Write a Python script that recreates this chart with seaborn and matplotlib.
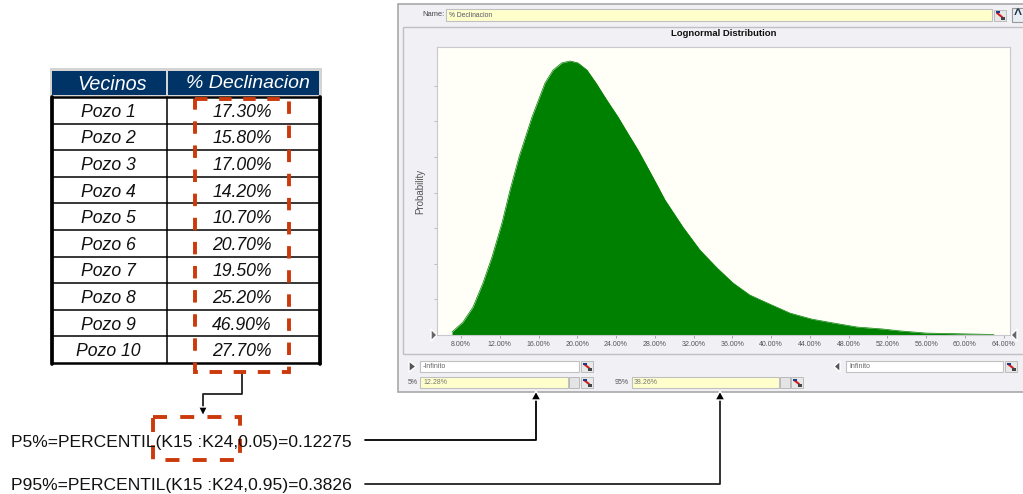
import matplotlib
matplotlib.use('Agg')
import matplotlib.pyplot as plt
import seaborn as sns
import pandas as pd
from matplotlib.patches import Rectangle, Polygon

# table values
vecinos = ['Pozo 1', 'Pozo 2', 'Pozo 3', 'Pozo 4', 'Pozo 5',
           'Pozo 6', 'Pozo 7', 'Pozo 8', 'Pozo 9', 'Pozo 10']
declinacion = ['17.30%', '15.80%', '17.00%', '14.20%', '10.70%',
               '20.70%', '19.50%', '25.20%', '46.90%', '27.70%']
table_header = ['Vecinos', '% Declinacion']

# lognormal curve (x in %, height relative to peak)
curve_x = [7.07, 8.2, 9.24, 10.27, 11.2, 12.23, 13.06, 13.99, 15.33, 16.67, 17.5, 18.4, 19.25, 20.07, 21.0, 21.93,
           23.0, 24.2, 25.2, 26.27, 27.2, 28.12, 29.05, 30.9, 32.66, 34.42, 36.07, 37.8, 39.6, 41.95, 44.2, 46.4,
           48.9, 51.5, 53.3, 56.0, 60.0, 63.0]
curve_y = [0.011, 0.047, 0.102, 0.190, 0.285, 0.409, 0.529, 0.650, 0.796, 0.920, 0.967, 0.993, 1.000, 0.993, 0.967, 0.920,
           0.860, 0.796, 0.737, 0.675, 0.615, 0.555, 0.493, 0.394, 0.310, 0.245, 0.190, 0.146, 0.117, 0.080, 0.058, 0.044,
           0.029, 0.022, 0.015, 0.007, 0.004, 0.002]
tick_values = [8, 12, 16, 20, 24, 28, 32, 36, 40, 44, 48, 52, 56, 60, 64]
ytick_values = [0.13, 0.26, 0.39, 0.52, 0.65, 0.78, 0.91]

formula_p5 = 'P5%=PERCENTIL(K15 :K24,0.05)=0.12275'
formula_p95 = 'P95%=PERCENTIL(K15 :K24,0.95)=0.3826'

sns.set_theme(style='white')
plt.rcParams['font.family'] = ['Liberation Sans', 'DejaVu Sans']

W, H = 1023, 494
fig = plt.figure(figsize=(W / 100, H / 100), dpi=100, facecolor='white')
bg = fig.add_axes([0, 0, 1, 1])
bg.set_xlim(0, W)
bg.set_ylim(H, 0)
bg.axis('off')

RED = '#cc3a0c'
NAVY = '#003366'
PANEL = '#f0f0f5'


def rect(x0, y0, x1, y1, fc='none', ec='none', lw=0, z=1, **kw):
    bg.add_patch(Rectangle((x0, y0), x1 - x0, y1 - y0, fc=fc, ec=ec, lw=lw, zorder=z, **kw))


def icon(x, y):
    # small link button next to the input fields
    rect(x, y, x + 12, y + 11, fc='#e8e8e8', ec='#aaaaaa', lw=0.5, z=3)
    bg.plot([x + 3, x + 8], [y + 3, y + 7], color='#d02020', lw=1.5, zorder=4)
    rect(x + 2, y + 1.5, x + 6, y + 3.5, fc='#203a80', z=5)
    rect(x + 7, y + 7, x + 11, y + 10, fc='#444444', z=5)


# ---- table ----
rows_top = 97
row_h = 26.6
cols = [52, 167, 320]
table_bottom = rows_top + 10 * row_h
rect(50, 68, 322, 96, fc='#d4d4d4', z=0)
rect(cols[0], 71, cols[1] - 1, 95, fc=NAVY, z=1)
rect(cols[1] + 1, 71, cols[2] - 1, 95, fc=NAVY, z=1)
bg.text(112, 84, table_header[0], color='white', style='italic', fontsize=14.2, ha='center', va='center')
bg.text(248, 84, table_header[1], color='white', style='italic', fontsize=14, ha='center', va='center')
for i, (v, d) in enumerate(zip(vecinos, declinacion)):
    yc = rows_top + row_h * (i + 0.5)
    bg.text(108, yc + 2, v, style='italic', fontsize=12.7, color='#111111', ha='center', va='center')
    bg.text(242, yc + 2, d, style='italic', fontsize=12.7, color='#111111', ha='center', va='center')
    if i:
        bg.plot([cols[0], cols[2]], [rows_top + row_h * i] * 2, color='black', lw=1.1, zorder=2)
bg.plot([cols[1], cols[1]], [rows_top, table_bottom], color='black', lw=1.1, zorder=2)
bg.plot([cols[0], cols[2]], [rows_top, rows_top], color='black', lw=1.8, zorder=2)
bg.plot([cols[0], cols[2]], [table_bottom, table_bottom], color='black', lw=1.8, zorder=2)
bg.plot([cols[0], cols[0]], [rows_top, table_bottom + 1], color='black', lw=2.7, zorder=2)
bg.plot([cols[2], cols[2]], [rows_top, table_bottom + 1], color='black', lw=2.7, zorder=2)

# red dashed boxes
rect(195, 99, 289, 372, fc='none', ec=RED, lw=2.8, ls=(0, (3.2, 3.0)), z=6)
rect(153, 417, 240, 460, fc='none', ec=RED, lw=2.8, ls=(0, (3.6, 3.4)), z=6)

# connector between table and formula
bg.plot([242, 242, 203, 203], [372, 394, 394, 408], color='#222222', lw=1.3, zorder=5)
bg.add_patch(Polygon([[198.5, 407], [207.5, 407], [203, 416]], fc='black', zorder=5))

# formulas
bg.text(11, 442, formula_p5, fontsize=12.6, color='#111111', va='center', ha='left', zorder=7)
bg.text(11, 485, formula_p95, fontsize=12.6, color='#111111', va='center', ha='left', zorder=7)
bg.plot([365, 536, 536], [440, 440, 398], color='black', lw=1.3)
bg.plot([365, 720, 720], [484, 484, 398], color='#222222', lw=1.3)
for xa in (536, 720):
    bg.add_patch(Polygon([[xa - 5, 400], [xa + 5, 400], [xa, 391]], fc='black', zorder=5))

# ---- software window ----
rect(398, 4, W + 5, 392, fc=PANEL, ec='#a8a8a8', lw=1.2, z=0)
rect(403, 27, W + 5, 354, fc=PANEL, ec='#c0c0c4', lw=1, z=0)
bg.text(422, 15, 'Name:', fontsize=5.4, color='#444444', va='center')
rect(446, 9.5, 992, 21, fc='#ffffcc', ec='#c0c0c0', lw=0.8, z=1)
bg.text(449, 15.5, '% Declinacion', fontsize=4.9, color='#555566', va='center')
icon(994, 10)
rect(1012, 8, W + 5, 22, fc='#e8eef5', ec='#999999', lw=0.8, z=1)
bg.text(1018, 15, '^', fontsize=10, weight='bold', color='#223344', va='center', ha='center')
bg.text(724, 33.5, 'Lognormal Distribution', fontsize=6.8, weight='bold', color='#111111', ha='center', va='center')

# input rows
rect(420, 361, 579, 372, fc='white', ec='#c0c0c0', lw=0.8, z=1)
rect(846, 361, 1003, 372, fc='white', ec='#c0c0c0', lw=0.8, z=1)
bg.text(423, 366.5, '-Infinito', fontsize=5, color='#666666', va='center', zorder=3)
bg.text(849, 366.5, 'Infinito', fontsize=5, color='#666666', va='center', zorder=3)
icon(581, 361)
icon(1005, 361)
bg.add_patch(Polygon([[409, 361], [409, 372], [416, 366.5]], fc='#555555', zorder=3))
bg.add_patch(Polygon([[840, 361], [840, 372], [834, 366.5]], fc='#555555', zorder=3))
rect(420, 377, 568, 388, fc='#ffffcc', ec='#c0c0c0', lw=0.8, z=1)
rect(632, 377, 779, 388, fc='#ffffcc', ec='#c0c0c0', lw=0.8, z=1)
bg.text(408, 382.5, '5%', fontsize=5, color='#555555', va='center')
bg.text(615, 382.5, '95%', fontsize=5, color='#555555', va='center')
bg.text(423, 382.5, '12.28%', fontsize=5, color='#777777', va='center', zorder=3)
bg.text(634, 382.5, '38.26%', fontsize=5, color='#777777', va='center', zorder=3)
rect(569, 377, 579, 388, fc='#e4e4e4', ec='#b0b0b0', lw=0.6, z=1)
rect(780, 377, 790, 388, fc='#e4e4e4', ec='#b0b0b0', lw=0.6, z=1)
icon(581, 377)
icon(791, 377)

# ---- distribution plot ----
left, right, top, bottom = 437, 1010, 47, 335
ax = fig.add_axes([left / W, 1 - bottom / H, (right - left) / W, (bottom - top) / H], facecolor='#fffff8')
df = pd.DataFrame({'x': curve_x, 'y': curve_y})
GREEN = '#008000'
ax.fill_between(df['x'], 0, df['y'], color=GREEN, lw=0)
sns.lineplot(data=df, x='x', y='y', color=GREEN, lw=0.5, ax=ax)
px_per_pct = 9.69
x0 = 8 - (461 - left) / px_per_pct
ax.set_xlim(x0, x0 + (right - left) / px_per_pct)
ax.set_ylim(0, 288 / 274)
ax.set_xticks(tick_values)
ax.set_xticklabels([f'{t:.2f}%' for t in tick_values], fontsize=5, color='#555555')
ax.set_yticks(ytick_values)
ax.set_yticklabels([])
ax.tick_params(axis='x', length=2, width=0.6, color='#999999', pad=2.5, bottom=True)
ax.tick_params(axis='y', length=2, width=0.7, color='#bbbbbb', left=True)
ax.set_xlabel('')
ax.set_ylabel('Probability', fontsize=7, color='#555555')
ax.yaxis.set_label_coords(-12 / (right - left), 0.5)
for s in ax.spines.values():
    s.set_color('#c8c8ce')
    s.set_linewidth(0.8)

# limit sliders at both ends of the plot
bg.add_patch(Polygon([[431, 329], [431, 341], [437, 335]], fc='#666666', zorder=3))
bg.add_patch(Polygon([[1017, 329], [1017, 341], [1011, 335]], fc='#666666', zorder=3))

fig.savefig('out.png', dpi=100)
